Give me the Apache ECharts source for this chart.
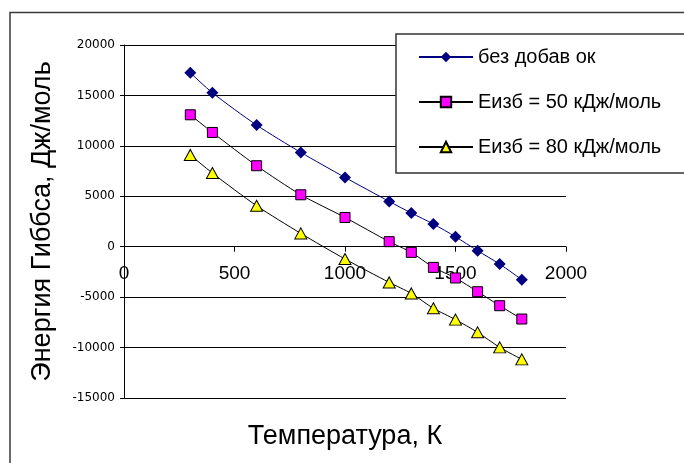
<!DOCTYPE html>
<html>
<head>
<meta charset="utf-8">
<script src="https://cdn.jsdelivr.net/npm/echarts@6/dist/echarts.min.js"></script>
<style>
  html, body { margin: 0; padding: 0; background: #fff; }
  #chart { width: 684px; height: 463px; }
</style>
</head>
<body>
<div id="chart"></div>
<script>
// Temperatures, K
const temperatures = [300, 400, 600, 800, 1000, 1200, 1300, 1400, 1500, 1600, 1700, 1800];

// Gibbs energy, J/mol
const noAdditives = [17250, 15260, 12060, 9350, 6870, 4490, 3340, 2250, 990, -400, -1720, -3270];
const excess50 = [13080, 11330, 8030, 5150, 2900, 500, -560, -2050, -3100, -4460, -5850, -7170];
const excess80 = [9100, 7300, 4060, 1320, -1220, -3540, -4630, -6110, -7230, -8490, -9980, -11170];

const seriesNames = ['без добав ок', 'Еизб = 50 кДж/моль', 'Еизб = 80 кДж/моль'];

const yMin = -15000, yMax = 20000;

const pairs = ys => temperatures.map((t, i) => [t, ys[i]]);
const plain = v => String(v);

const gridTop = 45, gridBottom = 65, chartHeight = 463;
// distance from the bottom of the plot up to the zero line, so the x axis sits at y = 0
const plotHeight = chartHeight - gridTop - gridBottom;
const zeroOffset = plotHeight * (0 - yMin) / (yMax - yMin);

const chart = echarts.init(document.getElementById('chart'), null, { renderer: 'canvas' });

chart.setOption({
  animation: false,
  backgroundColor: '#ffffff',
  textStyle: { fontFamily: 'Liberation Sans, Arial, sans-serif' },
  graphic: [{
    type: 'rect',
    shape: { x: 10, y: 12.5, width: 720, height: 500 },
    style: { fill: 'none', stroke: '#3a3a3a', lineWidth: 1.5 },
    silent: true,
    z: -1
  }],
  grid: {
    left: 124, top: gridTop, right: 118, bottom: gridBottom,
    containLabel: false,
    outerBoundsMode: 'none'
  },
  legend: {
    orient: 'vertical',
    left: 396,
    top: 34,
    padding: [13, 40, 16, 22],
    itemGap: 25,
    itemWidth: 54,
    itemHeight: 13,
    borderColor: '#333',
    borderWidth: 1.5,
    backgroundColor: '#fff',
    textStyle: { fontSize: 20, color: '#000', lineHeight: 20 },
    data: seriesNames
  },
  xAxis: {
    type: 'value',
    min: 0, max: 2000, interval: 500,
    offset: -zeroOffset,
    name: 'Температура, К',
    nameLocation: 'middle',
    nameGap: 176,
    nameTextStyle: { fontSize: 27, color: '#000' },
    axisLine: { onZero: false, lineStyle: { color: '#000', width: 1 } },
    axisTick: { show: true, length: 5, lineStyle: { color: '#000' } },
    axisLabel: { fontSize: 19, color: '#000', margin: 18, formatter: plain },
    splitLine: { show: false }
  },
  yAxis: {
    type: 'value',
    min: yMin, max: yMax, interval: 5000,
    name: 'Энергия Гиббса, Дж/моль',
    nameLocation: 'middle',
    nameGap: 68,
    nameRotate: 90,
    nameTextStyle: { fontSize: 27, color: '#000' },
    axisLine: { onZero: false, lineStyle: { color: '#000', width: 1 } },
    axisTick: { show: true, length: 4, lineStyle: { color: '#000' } },
    axisLabel: { fontSize: 12, color: '#000', margin: 9, fontFamily: 'DejaVu Sans', formatter: plain },
    splitLine: { show: true, lineStyle: { color: '#000', width: 1 } }
  },
  series: [
    {
      name: seriesNames[0],
      type: 'line',
      data: pairs(noAdditives),
      smooth: 0.25,
      symbol: 'diamond',
      symbolSize: 12,
      lineStyle: { color: '#000080', width: 1 },
      itemStyle: { color: '#000080', borderColor: '#000080', borderWidth: 0 },
      z: 4
    },
    {
      name: seriesNames[1],
      type: 'line',
      data: pairs(excess50),
      smooth: 0.25,
      symbol: 'rect',
      symbolSize: 10,
      lineStyle: { color: '#000', width: 1 },
      itemStyle: { color: '#ff00ff', borderColor: '#000', borderWidth: 1 },
      z: 3
    },
    {
      name: seriesNames[2],
      type: 'line',
      data: pairs(excess80),
      smooth: 0.25,
      symbol: 'triangle',
      symbolSize: [12, 11],
      lineStyle: { color: '#000', width: 1 },
      itemStyle: { color: '#ffff00', borderColor: '#000', borderWidth: 1 },
      z: 2
    }
  ]
});
</script>
</body>
</html>
